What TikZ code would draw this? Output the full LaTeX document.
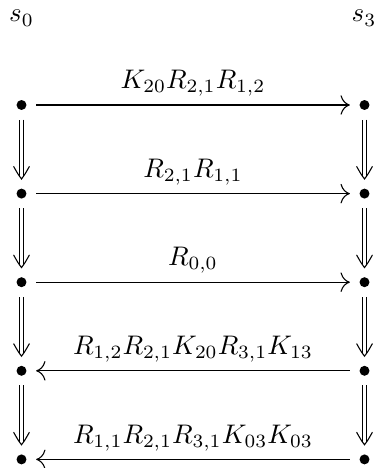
\documentclass[tikz,border=0pt]{standalone}
\usetikzlibrary{arrows.meta}
\begin{document}
\begin{tikzpicture}[x=0.372pt,y=-0.372pt,
  dot/.style={circle,fill,inner sep=0pt,minimum size=3.7pt,outer sep=3.6pt},
  hor/.style={-{To[scale=1.4]},line width=0.4pt},
  dbl/.style={double,double distance=1.25pt,line width=0.4pt,shorten >=1.1pt},
  chev/.style={line width=0.4pt,line cap=round,line join=miter},
  lab/.style={above,inner sep=3pt}]
\useasboundingbox (0,0) rectangle (375,468);

% column headers
\node[anchor=base] (h0) at (21.5,22) {$s_0$};
\node[anchor=base] (h3) at (364,22) {$s_3$};

% the two columns of points
\foreach \i/\y in {1/105,2/193.6,3/282.2,4/370.8,5/459.4}{
  \node[dot] (a\i) at (21.5,\y) {};
  \node[dot] (b\i) at (364.5,\y) {};
}

% horizontal maps
\draw[hor] (a1) -- node[lab] {$K_{20}R_{2,1}R_{1,2}$} (b1);
\draw[hor] (a2) -- node[lab] {$R_{2,1}R_{1,1}$} (b2);
\draw[hor] (a3) -- node[lab] {$R_{0,0}$} (b3);
\draw[hor] (b4) -- node[lab] {$R_{1,2}R_{2,1}K_{20}R_{3,1}K_{13}$} (a4);
\draw[hor] (b5) -- node[lab] {$R_{1,1}R_{2,1}R_{3,1}K_{03}K_{03}$} (a5);

% vertical double arrows with an open implication head
\foreach \i/\j in {1/2,2/3,3/4,4/5}{
  \foreach \c in {a,b}{
    \draw[dbl] (\c\i) -- (\c\j);
    \draw[chev] ([xshift=-2.9pt,yshift=4.6pt]\c\j.north)
      .. controls ([xshift=-1.2pt,yshift=1.6pt]\c\j.north) .. (\c\j.north)
      .. controls ([xshift=1.2pt,yshift=1.6pt]\c\j.north) .. ([xshift=2.9pt,yshift=4.6pt]\c\j.north);
  }
}
\end{tikzpicture}
\end{document}
